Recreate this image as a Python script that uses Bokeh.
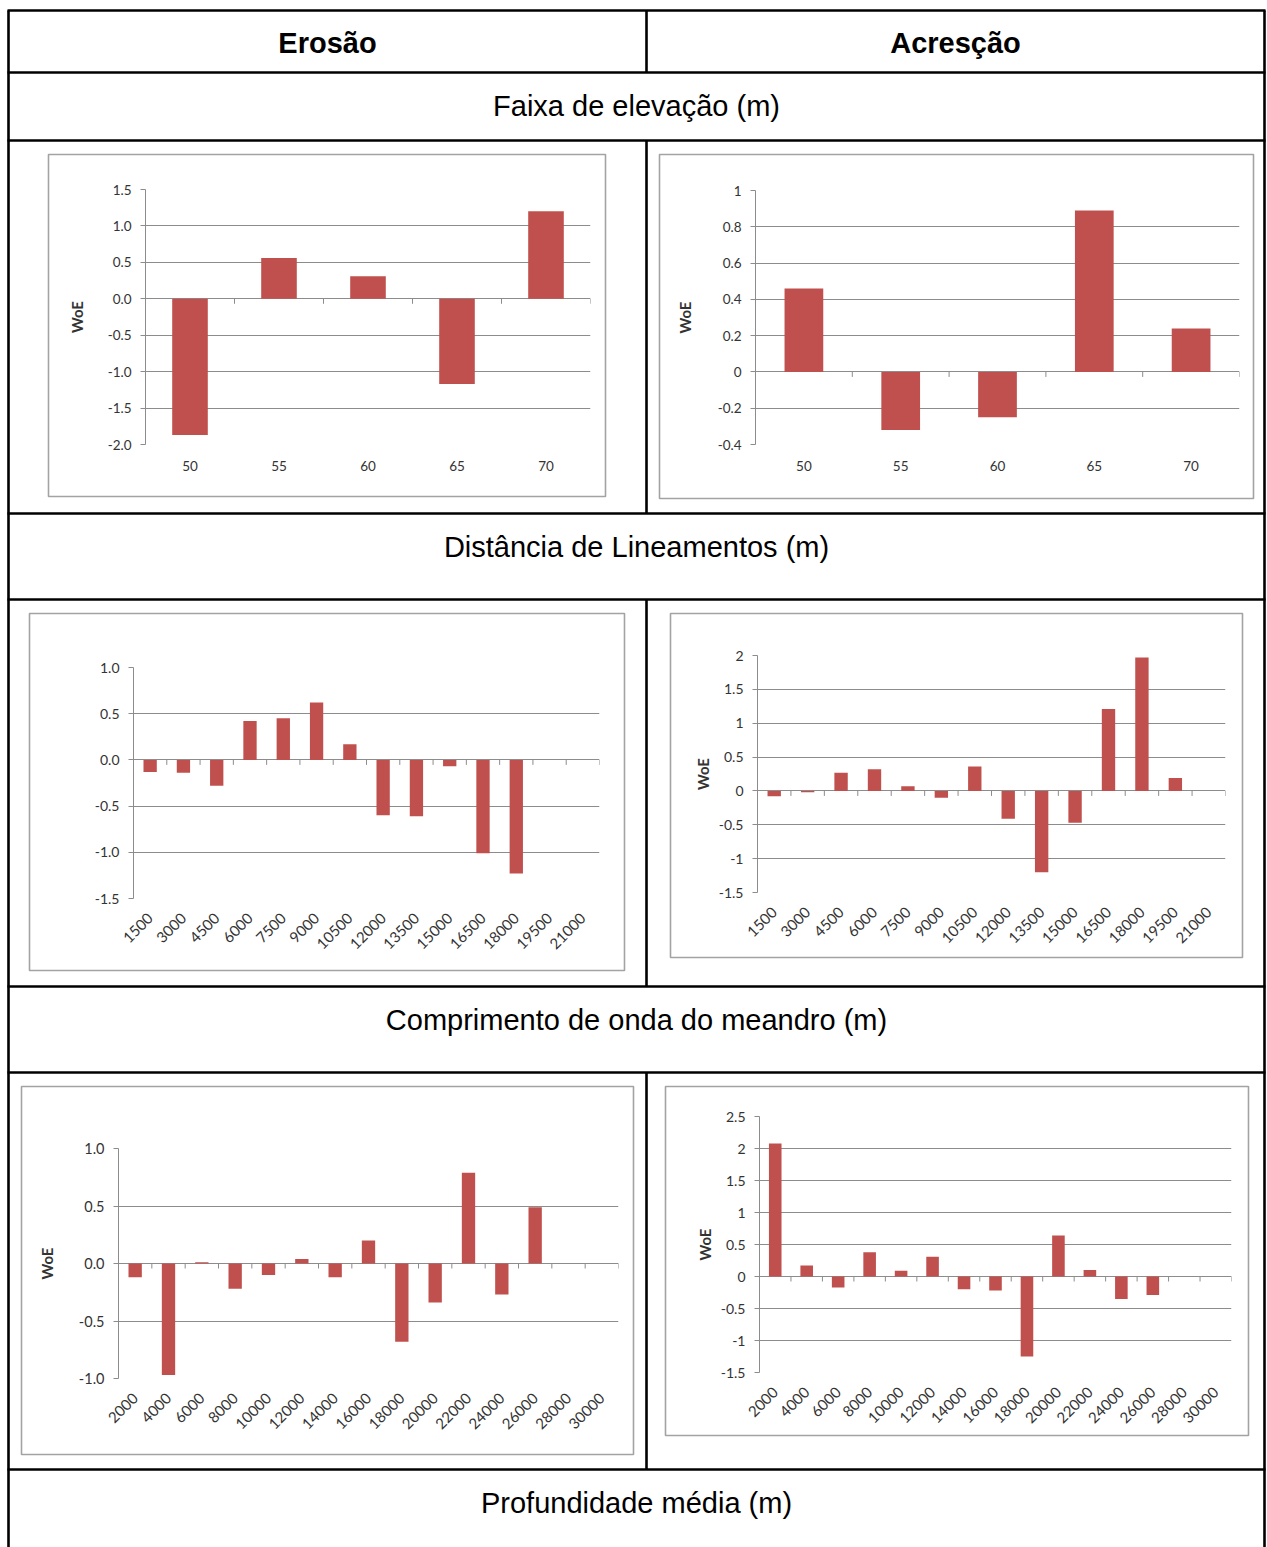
import math

from bokeh.core.properties import value
from bokeh.embed import file_html
from bokeh.models import FixedTicker, NumeralTickFormatter, Range1d
from bokeh.plotting import figure
from bokeh.resources import INLINE

# ---- table texts ----
col_titles = ["Erosão", "Acresção"]
section_titles = [
    "Faixa de elevação (m)",
    "Distância de Lineamentos (m)",
    "Comprimento de onda do meandro (m)",
    "Profundidade média (m)",
]

# ---- elevation band ----
elev_cats = ["50", "55", "60", "65", "70"]
elev_erosao = [-1.87, 0.56, 0.31, -1.17, 1.20]
elev_acrescao = [0.46, -0.32, -0.25, 0.89, 0.24]
elev_erosao_ticks = [-2.0, -1.5, -1.0, -0.5, 0.0, 0.5, 1.0, 1.5]
elev_acrescao_ticks = [-0.4, -0.2, 0.0, 0.2, 0.4, 0.6, 0.8, 1.0]

# ---- distance to lineaments ----
lin_cats = ["1500", "3000", "4500", "6000", "7500", "9000", "10500",
            "12000", "13500", "15000", "16500", "18000", "19500", "21000"]
lin_erosao = [-0.13, -0.14, -0.28, 0.42, 0.45, 0.62, 0.17,
              -0.60, -0.61, -0.07, -1.01, -1.23, None, None]
lin_acrescao = [-0.08, -0.02, 0.27, 0.32, 0.07, -0.10, 0.36,
                -0.41, -1.20, -0.47, 1.21, 1.97, 0.19, None]
lin_erosao_ticks = [-1.5, -1.0, -0.5, 0.0, 0.5, 1.0]
lin_acrescao_ticks = [-1.5, -1.0, -0.5, 0.0, 0.5, 1.0, 1.5, 2.0]

# ---- meander wavelength ----
mea_cats = ["2000", "4000", "6000", "8000", "10000", "12000", "14000", "16000",
            "18000", "20000", "22000", "24000", "26000", "28000", "30000"]
mea_erosao = [-0.12, -0.97, 0.01, -0.22, -0.10, 0.04, -0.12, 0.20,
              -0.68, -0.34, 0.79, -0.27, 0.49, None, None]
mea_acrescao = [2.08, 0.17, -0.17, 0.38, 0.09, 0.31, -0.20, -0.22,
                -1.25, 0.64, 0.10, -0.35, -0.29, None, None]
mea_erosao_ticks = [-1.0, -0.5, 0.0, 0.5, 1.0]
mea_acrescao_ticks = [-1.5, -1.0, -0.5, 0.0, 0.5, 1.0, 1.5, 2.0, 2.5]

# ---- page geometry (pixels) ----
PAGE_W, PAGE_H = 1267, 1547
T_LEFT, T_RIGHT, T_TOP, T_MID = 8, 1264, 10, 646
ROW_LINES = [72, 140, 513, 599, 986, 1072, 1469]
CHART_ROWS = [(140, 513), (599, 986), (1072, 1469)]
TITLE_ROW_TOPS = [72, 513, 986, 1469]

BAR = "#C0504D"
GRID = "#8C8C8C"
TXT = "#333333"
FRAME = "#A3A3A3"
TICK_FONT = "Lato"
TABLE_FONT = "Liberation Sans"

# chart boxes: outer frame and plot area, (x0, y0, x1, y1)
boxes = [
    ((48, 154, 605, 496), (145, 189, 590, 444)),
    ((659, 154, 1253, 498), (755, 190, 1239, 444)),
    ((29, 613, 624, 970), (133, 667, 599, 898)),
    ((670, 613, 1242, 957), (757, 655, 1225, 892)),
    ((21, 1086, 633, 1454), (118, 1148, 618, 1378)),
    ((665, 1086, 1248, 1435), (759, 1116, 1231, 1372)),
]


def place(model, left, top):
    model.styles = {"position": "absolute", "left": f"{left}px", "top": f"{top}px"}


# ---- background: the table ----
bg = figure(width=PAGE_W, height=PAGE_H, x_range=Range1d(0, PAGE_W),
            y_range=Range1d(PAGE_H, 0), x_axis_type=None, y_axis_type=None,
            output_backend="svg", toolbar_location=None, min_border=0)
place(bg, 0, 0)
bg.outline_line_color = None
bg.background_fill_color = "white"
bg.border_fill_color = "white"

hx0 = [T_LEFT - 1] * (len(ROW_LINES) + 1)
hx1 = [T_RIGHT + 1] * (len(ROW_LINES) + 1)
hy = [T_TOP] + ROW_LINES
bg.segment(x0=hx0, y0=hy, x1=hx1, y1=hy, line_color="black", line_width=2.6)
vx = [T_LEFT, T_RIGHT, T_MID, T_MID, T_MID, T_MID]
vy0 = [T_TOP, T_TOP, T_TOP] + [r[0] for r in CHART_ROWS]
vy1 = [PAGE_H, PAGE_H, ROW_LINES[0]] + [r[1] for r in CHART_ROWS]
bg.segment(x0=vx, y0=vy0, x1=vx, y1=vy1, line_color="black", line_width=2.6)

bg.text(x=[(T_LEFT + T_MID) / 2, (T_MID + T_RIGHT) / 2], y=[T_TOP + 32] * 2,
        text=col_titles, text_align="center", text_baseline="middle",
        text_font=value(TABLE_FONT), text_font_style="bold",
        text_font_size="29px", text_color="black")
bg.text(x=[(T_LEFT + T_RIGHT) / 2] * len(section_titles),
        y=[t + 33 for t in TITLE_ROW_TOPS], text=section_titles,
        text_align="center", text_baseline="middle",
        text_font=value(TABLE_FONT), text_font_size="29px",
        text_color="black")

fx = [(f[0] + f[2]) / 2 for f, _ in boxes]
fy = [(f[1] + f[3]) / 2 for f, _ in boxes]
fw = [f[2] - f[0] for f, _ in boxes]
fh = [f[3] - f[1] for f, _ in boxes]
bg.rect(x=fx, y=fy, width=fw, height=fh, fill_color="white",
        line_color=FRAME, line_width=1.6)


def make_chart(cats, vals, ticks, fmt, box, ylabel, rotated, font_px,
               xfont_px, ylabel_standoff, xlabel_standoff):
    (fx0, fy0, fx1, fy1), (px0, py0, px1, py1) = box
    inset = 2
    left, top = fx0 + inset, fy0 + inset
    w, h = fx1 - fx0 - 2 * inset, fy1 - fy0 - 2 * inset
    n = len(cats)
    p = figure(width=w, height=h, x_range=Range1d(-0.5, n - 0.5),
               y_range=Range1d(ticks[0], ticks[-1]),
               output_backend="svg", toolbar_location=None,
               min_border_left=px0 - left, min_border_right=left + w - px1,
               min_border_top=py0 - top, min_border_bottom=top + h - py1)
    place(p, left, top)
    p.outline_line_color = None
    p.background_fill_color = "white"
    p.border_fill_color = "white"

    yax = p.yaxis[0]
    yax.ticker = FixedTicker(ticks=ticks)
    yax.formatter = NumeralTickFormatter(format=fmt)
    yax.axis_line_color = GRID
    yax.major_tick_line_color = GRID
    yax.major_tick_out = 5
    yax.major_tick_in = 0
    yax.minor_tick_line_color = None
    yax.major_label_text_font = TICK_FONT
    yax.major_label_text_font_size = f"{font_px}px"
    yax.major_label_text_color = TXT
    yax.major_label_standoff = 9
    if ylabel:
        yax.axis_label = ylabel
        yax.axis_label_text_font = TICK_FONT
        yax.axis_label_text_font_style = "bold"
        yax.axis_label_text_font_size = "15px"
        yax.axis_label_text_color = TXT
        yax.axis_label_standoff = ylabel_standoff

    xax = p.xaxis[0]
    xax.ticker = FixedTicker(ticks=list(range(n)))
    xax.major_label_overrides = {i: c for i, c in enumerate(cats)}
    xax.axis_line_color = None
    xax.major_tick_line_color = None
    xax.minor_tick_line_color = None
    xax.major_tick_out = 0
    xax.major_tick_in = 0
    xax.major_label_text_font = TICK_FONT
    xax.major_label_text_font_size = f"{xfont_px}px"
    xax.major_label_text_color = TXT
    xax.major_label_standoff = xlabel_standoff
    if rotated:
        xax.major_label_orientation = math.pi / 4

    p.xgrid.visible = False
    p.ygrid.grid_line_color = GRID
    p.ygrid.grid_line_width = 1

    p.vbar(x=list(range(n)), top=vals, bottom=0, width=0.4,
           fill_color=BAR, line_color=None)
    # category boundary ticks hanging from the zero line
    p.ray(x=[i - 0.5 for i in range(n + 1)], y=0, length=5,
          length_units="screen", angle=-math.pi / 2, line_color=GRID)
    return p


charts = [
    make_chart(elev_cats, elev_erosao, elev_erosao_ticks, "0.0", boxes[0],
               "WoE", False, 13.5, 13.5, 19, 16),
    make_chart(elev_cats, elev_acrescao, elev_acrescao_ticks, "0.[0]", boxes[1],
               "WoE", False, 13.5, 13.5, 21, 16),
    make_chart(lin_cats, lin_erosao, lin_erosao_ticks, "0.0", boxes[2],
               None, True, 14, 15, 10, 17),
    make_chart(lin_cats, lin_acrescao, lin_acrescao_ticks, "0.[0]", boxes[3],
               "WoE", True, 14, 15, 4, 17),
    make_chart(mea_cats, mea_erosao, mea_erosao_ticks, "0.0", boxes[4],
               "WoE", True, 14.5, 15, 20, 17),
    make_chart(mea_cats, mea_acrescao, mea_acrescao_ticks, "0.[0]", boxes[5],
               "WoE", True, 14, 15, 4, 17),
]

roots = [bg] + charts

open("out.html", "w").write(file_html(roots, INLINE))
